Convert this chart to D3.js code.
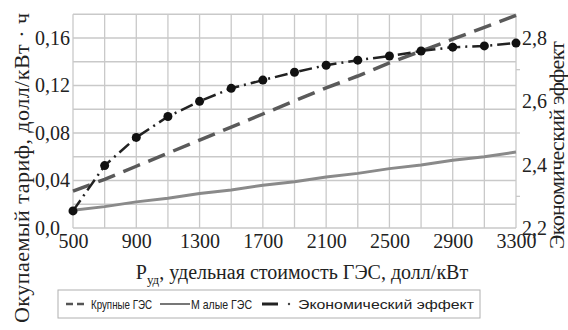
<!DOCTYPE html>
<html>
<head>
<meta charset="utf-8">
<script src="https://cdn.jsdelivr.net/npm/d3@7"></script>
<style>
  html, body { margin: 0; padding: 0; background: #fff; }
  svg { display: block; }
</style>
</head>
<body>
<svg id="chart" width="568" height="330"></svg>
<script>
// Specific cost of the plant, USD/kW
const costs = [500, 700, 900, 1100, 1300, 1500, 1700, 1900, 2100, 2300, 2500, 2700, 2900, 3100, 3300];
// Payback tariff, USD/kWh
const largeHpp = [0.031, 0.041, 0.052, 0.063, 0.074, 0.085, 0.096, 0.107, 0.118, 0.128, 0.139, 0.149, 0.159, 0.169, 0.179];
const smallHpp = [0.015, 0.018, 0.022, 0.025, 0.029, 0.032, 0.036, 0.039, 0.043, 0.046, 0.050, 0.053, 0.057, 0.060, 0.064];
// Economic effect (right axis)
const econEffect = [2.254, 2.397, 2.486, 2.552, 2.600, 2.641, 2.667, 2.692, 2.714, 2.730, 2.743, 2.759, 2.771, 2.775, 2.784];

const xTicks = [500, 900, 1300, 1700, 2100, 2500, 2900, 3300];
const yLeftTicks = [0, 0.04, 0.08, 0.12, 0.16];
const yLeftLabels = ["0,0", "0,04", "0,08", "0,12", "0,16"];
const yRightTicks = [2.2, 2.4, 2.6, 2.8];
const yRightLabels = ["2,2", "2,4", "2,6", "2,8"];
const yRightMinor = [2.3, 2.5, 2.7];
const xGrid = [500, 700, 900, 1100, 1300, 1500, 1700, 1900, 2100, 2300, 2500, 2700, 2900, 3100, 3300];
const yGrid = [0, 0.02, 0.04, 0.06, 0.08, 0.10, 0.12, 0.14, 0.16, 0.18];

const legendItems = ["Крупные ГЭС", "М алые ГЭС", "Экономический эффект"];
const xTitleMain = "Р";
const xTitleSub = "уд";
const xTitleRest = ", удельная стоимость ГЭС, долл/кВт";
const yLeftTitle = "Окупаемый тариф, долл/кВт · ч";
const yRightTitle = "Экономический эффект";

const SERIF = "Liberation Serif";
const SANS = "Liberation Sans";

const svg = d3.select("#chart");
const plot = { left: 73, right: 516, top: 14.25, bottom: 228 };

const x = d3.scaleLinear().domain([500, 3300]).range([plot.left, plot.right]);
const y = d3.scaleLinear().domain([0, 0.18]).range([plot.bottom, plot.top]);
const y2 = d3.scaleLinear().domain([2.2, 2.875]).range([plot.bottom, plot.top]);

// grid
const grid = svg.append("g").attr("stroke", "#c9c9c9").attr("stroke-width", 1.3);
grid.selectAll("line.v").data(xGrid).join("line")
  .attr("x1", d => x(d)).attr("x2", d => x(d))
  .attr("y1", plot.top).attr("y2", plot.bottom);
grid.selectAll("line.h").data(yGrid).join("line")
  .attr("x1", plot.left).attr("x2", plot.right)
  .attr("y1", d => y(d)).attr("y2", d => y(d));
// small ticks on the right axis
grid.selectAll("line.m").data(yRightMinor).join("line")
  .attr("x1", plot.right).attr("x2", plot.right + 4)
  .attr("y1", d => y2(d)).attr("y2", d => y2(d));

function styleTicks(sel) {
  sel.attr("font-family", null).attr("font-size", null);
  sel.selectAll("text")
    .style("font-family", SERIF).style("font-size", "20px").attr("fill", "#222");
}

// axes
const xAxis = svg.append("g")
  .attr("transform", `translate(0,${plot.bottom})`)
  .call(d3.axisBottom(x).tickValues(xTicks).tickSize(0).tickPadding(6).tickFormat(d3.format("d")));
xAxis.select(".domain").remove();
styleTicks(xAxis);

const yAxisL = svg.append("g")
  .attr("transform", `translate(${plot.left},0)`)
  .call(d3.axisLeft(y).tickValues(yLeftTicks).tickSize(0).tickFormat((d, i) => yLeftLabels[i]));
yAxisL.select(".domain").remove();
styleTicks(yAxisL);
yAxisL.selectAll("text").attr("text-anchor", "start").attr("x", 35 - plot.left);

const yAxisR = svg.append("g")
  .attr("transform", `translate(${plot.right},0)`)
  .call(d3.axisRight(y2).tickValues(yRightTicks).tickSize(0).tickFormat((d, i) => yRightLabels[i]));
yAxisR.select(".domain").remove();
styleTicks(yAxisR);
yAxisR.selectAll("text").attr("x", 6);

// series
const lineLeft = d3.line().x((d, i) => x(costs[i])).y(d => y(d));
const lineRight = d3.line().x((d, i) => x(costs[i])).y(d => y2(d));

svg.append("path").datum(smallHpp).attr("d", lineLeft)
  .attr("fill", "none").attr("stroke", "#8a8a8a").attr("stroke-width", 3);

svg.append("path").datum(largeHpp).attr("d", lineLeft)
  .attr("fill", "none").attr("stroke", "#5a5a5a").attr("stroke-width", 3.5)
  .attr("stroke-dasharray", "18,9");

svg.append("path").datum(econEffect).attr("d", lineRight)
  .attr("fill", "none").attr("stroke", "#222").attr("stroke-width", 2.5)
  .attr("stroke-dasharray", "13,5,2,5");

svg.append("g").selectAll("circle").data(econEffect).join("circle")
  .attr("cx", (d, i) => x(costs[i])).attr("cy", d => y2(d))
  .attr("r", 4.5).attr("fill", "#111");

// axis titles
const xt = svg.append("text").style("font-family", SERIF).style("font-size", "20px")
  .attr("fill", "#222").attr("x", 302).attr("y", 279).attr("text-anchor", "middle");
xt.append("tspan").text(xTitleMain);
xt.append("tspan").style("font-size", "13px").attr("dy", 5).text(xTitleSub);
xt.append("tspan").attr("dy", -5).text(xTitleRest);

svg.append("text").style("font-family", SERIF).style("font-size", "22px").attr("fill", "#222")
  .attr("transform", "translate(29,168) rotate(-90)")
  .attr("text-anchor", "middle")
  .attr("textLength", 310).attr("lengthAdjust", "spacing")
  .text(yLeftTitle);

svg.append("text").style("font-family", SERIF).style("font-size", "22px").attr("fill", "#222")
  .attr("transform", "translate(564,145) rotate(-90)")
  .attr("text-anchor", "middle")
  .attr("textLength", 208).attr("lengthAdjust", "spacing")
  .text(yRightTitle);

// legend
const lg = svg.append("g");
lg.append("rect").attr("x", 58).attr("y", 290).attr("width", 422).attr("height", 28)
  .attr("fill", "#fff").attr("stroke", "#b0b0b0").attr("stroke-width", 1);
const ly = 304;
lg.append("line").attr("x1", 66).attr("x2", 84).attr("y1", ly).attr("y2", ly)
  .attr("stroke", "#555").attr("stroke-width", 2.5).attr("stroke-dasharray", "7,4");
lg.append("line").attr("x1", 160).attr("x2", 190).attr("y1", ly).attr("y2", ly)
  .attr("stroke", "#777").attr("stroke-width", 2);
lg.append("line").attr("x1", 262).attr("x2", 278).attr("y1", ly).attr("y2", ly)
  .attr("stroke", "#222").attr("stroke-width", 3);
lg.append("circle").attr("cx", 289).attr("cy", ly).attr("r", 1.2).attr("fill", "#444");
const legendX = [91, 191, 298];
const legendW = [61, 61, 176];
lg.selectAll("text").data(legendItems).join("text")
  .style("font-family", SANS).style("font-size", "13px").attr("fill", "#222")
  .attr("x", (d, i) => legendX[i]).attr("y", ly + 4.5)
  .attr("textLength", (d, i) => legendW[i]).attr("lengthAdjust", "spacingAndGlyphs")
  .text(d => d);
</script>
</body>
</html>
